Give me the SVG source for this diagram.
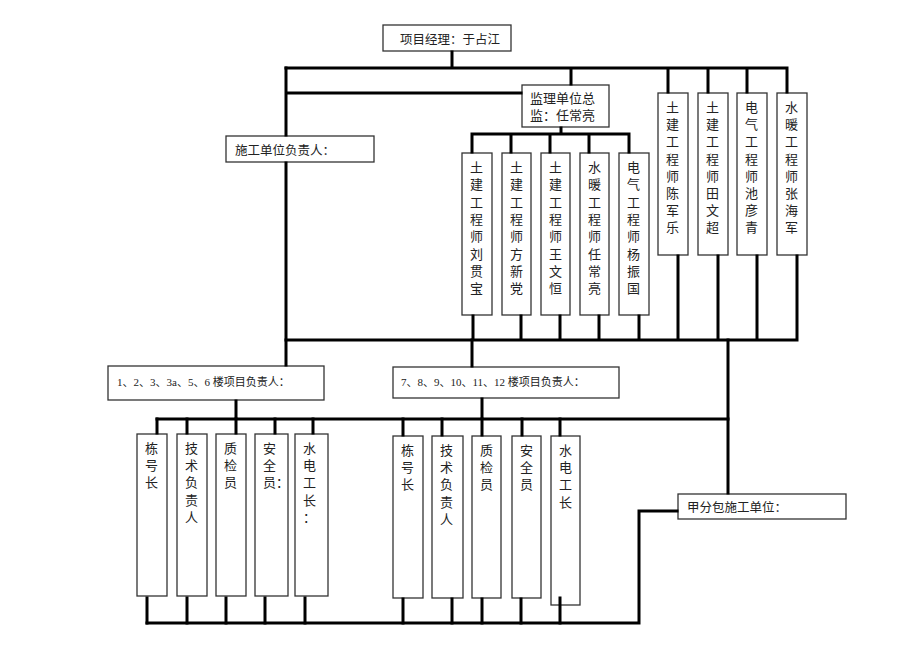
<svg xmlns="http://www.w3.org/2000/svg" width="920" height="651" viewBox="0 0 920 651">
<style>
.box{fill:#fff;stroke:#333;stroke-width:1.3}
.ln{fill:none;stroke:#000;stroke-width:3;stroke-linecap:square}
text{font-family:"Liberation Serif","Noto Sans CJK SC",serif;fill:#222}
.h{font-size:12.5px}
.s{font-size:11px}
.v{font-size:13px}
</style>
<rect width="920" height="651" fill="#fff"/>
<g id="nodes">
<g id="pm"><rect class="box" x="383" y="25" width="128" height="26"/><text class="h" x="400" y="43.5">项目经理：于占江</text></g>
<g id="sup"><rect class="box" x="522" y="85" width="87" height="42"/><text class="v" x="530" y="103">监理单位总</text><text class="v" x="530" y="120">监：任常亮</text></g>
<g id="con"><rect class="box" x="226" y="136" width="148" height="26"/><text class="h" x="235" y="155">施工单位负责人：</text></g>
<g id="m1"><rect class="box" x="462" y="153" width="30" height="162"/><text class="v" x="470" y="172"><tspan x="470">土</tspan><tspan x="470" dy="17.3">建</tspan><tspan x="470" dy="17.3">工</tspan><tspan x="470" dy="17.3">程</tspan><tspan x="470" dy="17.3">师</tspan><tspan x="470" dy="17.3">刘</tspan><tspan x="470" dy="17.3">贯</tspan><tspan x="470" dy="17.3">宝</tspan></text></g>
<g id="m2"><rect class="box" x="502" y="153" width="29" height="162"/><text class="v" x="510" y="172"><tspan x="510">土</tspan><tspan x="510" dy="17.3">建</tspan><tspan x="510" dy="17.3">工</tspan><tspan x="510" dy="17.3">程</tspan><tspan x="510" dy="17.3">师</tspan><tspan x="510" dy="17.3">方</tspan><tspan x="510" dy="17.3">新</tspan><tspan x="510" dy="17.3">党</tspan></text></g>
<g id="m3"><rect class="box" x="541" y="153" width="29" height="162"/><text class="v" x="549" y="172"><tspan x="549">土</tspan><tspan x="549" dy="17.3">建</tspan><tspan x="549" dy="17.3">工</tspan><tspan x="549" dy="17.3">程</tspan><tspan x="549" dy="17.3">师</tspan><tspan x="549" dy="17.3">王</tspan><tspan x="549" dy="17.3">文</tspan><tspan x="549" dy="17.3">恒</tspan></text></g>
<g id="m4"><rect class="box" x="580" y="153" width="29" height="162"/><text class="v" x="588" y="172"><tspan x="588">水</tspan><tspan x="588" dy="17.3">暖</tspan><tspan x="588" dy="17.3">工</tspan><tspan x="588" dy="17.3">程</tspan><tspan x="588" dy="17.3">师</tspan><tspan x="588" dy="17.3">任</tspan><tspan x="588" dy="17.3">常</tspan><tspan x="588" dy="17.3">亮</tspan></text></g>
<g id="m5"><rect class="box" x="619" y="153" width="30" height="162"/><text class="v" x="627" y="172"><tspan x="627">电</tspan><tspan x="627" dy="17.3">气</tspan><tspan x="627" dy="17.3">工</tspan><tspan x="627" dy="17.3">程</tspan><tspan x="627" dy="17.3">师</tspan><tspan x="627" dy="17.3">杨</tspan><tspan x="627" dy="17.3">振</tspan><tspan x="627" dy="17.3">国</tspan></text></g>
<g id="r1"><rect class="box" x="658" y="93" width="30" height="162"/><text class="v" x="666" y="112"><tspan x="666">土</tspan><tspan x="666" dy="17.2">建</tspan><tspan x="666" dy="17.2">工</tspan><tspan x="666" dy="17.2">程</tspan><tspan x="666" dy="17.2">师</tspan><tspan x="666" dy="17.2">陈</tspan><tspan x="666" dy="17.2">军</tspan><tspan x="666" dy="17.2">乐</tspan></text></g>
<g id="r2"><rect class="box" x="698" y="93" width="30" height="162"/><text class="v" x="706" y="112"><tspan x="706">土</tspan><tspan x="706" dy="17.2">建</tspan><tspan x="706" dy="17.2">工</tspan><tspan x="706" dy="17.2">程</tspan><tspan x="706" dy="17.2">师</tspan><tspan x="706" dy="17.2">田</tspan><tspan x="706" dy="17.2">文</tspan><tspan x="706" dy="17.2">超</tspan></text></g>
<g id="r3"><rect class="box" x="737" y="93" width="30" height="162"/><text class="v" x="745" y="112"><tspan x="745">电</tspan><tspan x="745" dy="17.2">气</tspan><tspan x="745" dy="17.2">工</tspan><tspan x="745" dy="17.2">程</tspan><tspan x="745" dy="17.2">师</tspan><tspan x="745" dy="17.2">池</tspan><tspan x="745" dy="17.2">彦</tspan><tspan x="745" dy="17.2">青</tspan></text></g>
<g id="r4"><rect class="box" x="777" y="93" width="30" height="162"/><text class="v" x="785" y="112"><tspan x="785">水</tspan><tspan x="785" dy="17.2">暖</tspan><tspan x="785" dy="17.2">工</tspan><tspan x="785" dy="17.2">程</tspan><tspan x="785" dy="17.2">师</tspan><tspan x="785" dy="17.2">张</tspan><tspan x="785" dy="17.2">海</tspan><tspan x="785" dy="17.2">军</tspan></text></g>
<g id="ga"><rect class="box" x="108" y="366" width="216" height="34"/><text class="s" x="117" y="386">1、2、3、3a、5、6 楼项目负责人：</text></g>
<g id="gb"><rect class="box" x="393" y="367" width="226" height="31"/><text class="s" x="401" y="385.5">7、8、9、10、11、12 楼项目负责人：</text></g>
<g id="a1"><rect class="box" x="137" y="434" width="30" height="162"/><text class="v" x="145" y="453"><tspan x="145">栋</tspan><tspan x="145" dy="17.2">号</tspan><tspan x="145" dy="17.2">长</tspan></text></g>
<g id="a2"><rect class="box" x="177" y="434" width="30" height="162"/><text class="v" x="185" y="453"><tspan x="185">技</tspan><tspan x="185" dy="17.2">术</tspan><tspan x="185" dy="17.2">负</tspan><tspan x="185" dy="17.2">责</tspan><tspan x="185" dy="17.2">人</tspan></text></g>
<g id="a3"><rect class="box" x="216" y="434" width="30" height="162"/><text class="v" x="224" y="453"><tspan x="224">质</tspan><tspan x="224" dy="17.2">检</tspan><tspan x="224" dy="17.2">员</tspan></text></g>
<g id="a4"><rect class="box" x="255" y="434" width="33" height="162"/><text class="v" x="263" y="453"><tspan x="263">安</tspan><tspan x="263" dy="17.2">全</tspan><tspan x="263" dy="17.2">员：</tspan></text></g>
<g id="a5"><rect class="box" x="295" y="434" width="33" height="162"/><text class="v" x="303" y="453"><tspan x="303">水</tspan><tspan x="303" dy="17.2">电</tspan><tspan x="303" dy="17.2">工</tspan><tspan x="303" dy="17.2">长</tspan><tspan x="303" dy="17.2">：</tspan></text></g>
<g id="b1"><rect class="box" x="393" y="436" width="30" height="162"/><text class="v" x="401" y="455"><tspan x="401">栋</tspan><tspan x="401" dy="17.2">号</tspan><tspan x="401" dy="17.2">长</tspan></text></g>
<g id="b2"><rect class="box" x="432" y="436" width="31" height="162"/><text class="v" x="440" y="455"><tspan x="440">技</tspan><tspan x="440" dy="17.2">术</tspan><tspan x="440" dy="17.2">负</tspan><tspan x="440" dy="17.2">责</tspan><tspan x="440" dy="17.2">人</tspan></text></g>
<g id="b3"><rect class="box" x="472" y="436" width="29" height="162"/><text class="v" x="480" y="455"><tspan x="480">质</tspan><tspan x="480" dy="17.2">检</tspan><tspan x="480" dy="17.2">员</tspan></text></g>
<g id="b4"><rect class="box" x="512" y="436" width="29" height="162"/><text class="v" x="520" y="455"><tspan x="520">安</tspan><tspan x="520" dy="17.2">全</tspan><tspan x="520" dy="17.2">员</tspan></text></g>
<g id="b5"><rect class="box" x="551" y="436" width="29" height="169"/><text class="v" x="559" y="455"><tspan x="559">水</tspan><tspan x="559" dy="17.2">电</tspan><tspan x="559" dy="17.2">工</tspan><tspan x="559" dy="17.2">长</tspan></text></g>
<g id="sub"><rect class="box" x="678" y="494" width="168" height="25"/><text class="h" x="687" y="511.5">甲分包施工单位：</text></g>
</g>
<g id="connectors" class="ln">
<path class="ln" d="M452 52V68M286 68H787M668 68V92M708 68V92M747 68V92M787 68V92M571 68V84"/>
<path class="ln" d="M286 68V135M286 163V365M286 93H521"/>
<path class="ln" d="M561 128V134M472 134H629M472 134V152M511 134V152M550 134V152M589 134V152M629 134V152"/>
<path class="ln" d="M473 316V340M521 316V340M560 316V340M599 316V340M639 316V340M678 256V340M718 256V340M757 256V340M797 256V340M286 340H797"/>
<path class="ln" d="M472 340V366M728 340V493"/>
<path class="ln" d="M236 401V419M482 399V419M157 419H728"/>
<path class="ln" d="M157 419V433M187 419V433M236 419V433M275 419V433M313 419V433M403 419V435M442 419V435M482 419V435M522 419V435M560 419V435"/>
<path class="ln" d="M147 598V623M187 598V623M226 598V623M265 598V623M305 598V623M403 599V623M452 599V623M482 599V623M521 599V623M560 598V623"/>
<path class="ln" d="M147 623H639V511H677"/>
</g>
</svg>
